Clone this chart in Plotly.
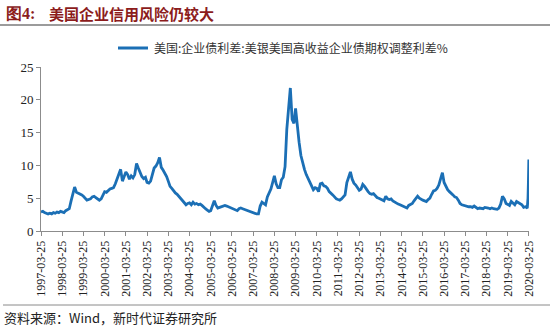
import plotly.graph_objects as go

W, H = 550, 328

# Monthly observations (25th of each month), 1997-03 .. 2020-02, then weekly in March 2020
spread = [
    # 1997 (Mar-Dec)
    2.9, 3.0, 2.8, 2.7, 2.6, 2.7, 2.6, 2.8, 2.7, 2.9,
    # 1998
    2.8, 3.0, 2.9, 2.8, 3.1, 3.2, 3.4, 4.6, 5.8, 6.7, 5.9, 5.8,
    # 1999
    5.6, 5.5, 5.3, 5.0, 4.7, 4.8, 4.9, 5.2, 5.3, 5.1, 4.9, 4.7,
    # 2000
    4.9, 5.5, 6.0, 5.9, 6.2, 6.4, 6.5, 6.6, 7.2, 8.0, 8.8, 9.4,
    # 2001
    7.6, 8.2, 9.0, 8.6, 7.9, 8.4, 8.1, 8.6, 10.3, 9.6, 8.8, 8.3,
    # 2002
    8.0, 8.2, 7.4, 7.3, 7.6, 8.7, 9.6, 9.9, 10.4, 11.2, 9.7, 9.3,
    # 2003
    8.8, 8.3, 7.6, 6.8, 6.5, 6.1, 5.8, 5.6, 5.3, 5.0, 4.6, 4.3,
    # 2004
    4.0, 4.2, 4.3, 4.0, 4.4, 4.1, 4.2, 4.0, 4.1, 3.9, 3.6, 3.4,
    # 2005
    3.2, 3.0, 3.1, 3.9, 4.6, 3.9, 3.5, 3.6, 3.7, 3.8, 3.9, 3.8,
    # 2006
    3.7, 3.6, 3.5, 3.3, 3.2, 3.1, 3.4, 3.5, 3.4, 3.3, 3.2, 3.0,
    # 2007
    2.9, 2.9, 2.8, 2.7, 2.6, 2.6, 3.8, 4.4, 4.2, 4.0, 5.2, 5.8,
    # 2008
    6.4, 7.4, 8.4, 7.2, 6.6, 6.6, 7.8, 8.2, 9.8, 15.5, 18.6, 21.8,
    # 2009
    17.0, 16.4, 18.7, 15.6, 13.5, 11.5, 10.2, 9.4, 8.6, 8.0, 7.6, 6.8,
    # 2010
    6.3, 6.6, 6.5, 6.0, 7.2, 7.3, 6.9, 6.8, 6.5, 6.0, 5.8, 5.5,
    # 2011
    5.2, 4.9, 4.8, 4.7, 4.9, 5.3, 5.5, 7.4, 8.3, 9.0, 7.9, 7.3,
    # 2012
    7.0, 6.5, 6.2, 6.4, 7.1, 6.8, 6.3, 6.0, 5.7, 5.6, 5.7, 5.4,
    # 2013
    5.1, 5.0, 4.9, 4.8, 4.6, 5.3, 4.9, 4.8, 4.9, 4.6, 4.4, 4.3,
    # 2014
    4.1, 4.0, 3.9, 3.8, 3.6, 3.5, 3.9, 4.0, 4.2, 4.6, 4.9, 5.3,
    # 2015
    5.0, 4.8, 4.7, 4.6, 4.5, 4.8, 5.0, 5.6, 6.1, 6.2, 6.5, 7.0,
    # 2016
    7.8, 8.9, 7.4, 6.8, 6.3, 6.0, 5.8, 5.5, 5.2, 5.1, 4.7, 4.2,
    # 2017
    4.0, 3.9, 3.9, 3.8, 3.7, 3.7, 3.6, 3.8, 3.6, 3.4, 3.5, 3.5,
    # 2018
    3.4, 3.6, 3.6, 3.5, 3.4, 3.5, 3.4, 3.4, 3.3, 3.5, 4.1, 5.3,
    # 2019
    4.9, 4.2, 4.1, 3.9, 4.5, 4.3, 4.0, 4.5, 4.3, 4.2, 4.0, 3.6,
    # 2020 (Jan-Feb)
    3.7, 3.5,
]
march_2020_dates = ["2020-03-09", "2020-03-16", "2020-03-23"]
march_2020_values = [5.0, 7.5, 10.9]

tick_years = list(range(1997, 2021))
tick_labels = [f"{y}-03-25" for y in tick_years]

series_name = "美国:企业债利差:美银美国高收益企业债期权调整利差%"
title_prefix = "图4:"
title_text = "美国企业信用风险仍较大"
source_text = "资料来源：Wind，新时代证券研究所"

dates = []
y, m = 1997, 3
while (y, m) <= (2020, 2):
    dates.append(f"{y}-{m:02d}-25")
    m += 1
    if m > 12:
        y, m = y + 1, 1
dates += march_2020_dates
values = spread + march_2020_values

LINE_BLUE = "#1B6FB5"
AXIS_GREY = "#8C8C8C"
TITLE_RED = "#8C1C1C"
SERIF = "Liberation Serif, Times New Roman, serif"
CJK = "Noto Sans CJK SC, sans-serif"

fig = go.Figure()
fig.add_trace(go.Scatter(
    x=dates, y=values, mode="lines", name=series_name,
    line=dict(color=LINE_BLUE, width=2.8), showlegend=False,
))

# plot area in pixels
left, right, top, bottom = 41, 529, 67, 231


def px_x(x):
    """Pixel x -> paper coordinate (relative to the plot area)."""
    return (x - left) / (right - left)


def px_y(y):
    """Pixel y -> paper coordinate (relative to the plot area)."""
    return (bottom - y) / (bottom - top)


fig.update_layout(
    width=W, height=H,
    margin=dict(l=left, r=W - right, t=top, b=H - bottom),
    paper_bgcolor="white", plot_bgcolor="white",
    xaxis=dict(
        type="date", range=["1997-03-25", "2020-03-26"],
        tickvals=tick_labels, ticktext=tick_labels, tickangle=-90,
        showline=True, linecolor=AXIS_GREY, linewidth=1,
        ticks="outside", ticklen=4, tickcolor=AXIS_GREY,
        showgrid=False, zeroline=False,
        tickfont=dict(family=SERIF, size=12, color="#222"),
    ),
    yaxis=dict(
        range=[0, 25], tickvals=[0, 5, 10, 15, 20, 25],
        showline=True, linecolor=AXIS_GREY, linewidth=1,
        ticks="outside", ticklen=4, tickcolor=AXIS_GREY,
        showgrid=False, zeroline=False,
        tickfont=dict(family=SERIF, size=13, color="#222"),
    ),
    shapes=[
        # rule under the heading
        dict(type="line", xref="paper", yref="paper",
             x0=px_x(0), x1=px_x(W), y0=px_y(25), y1=px_y(25),
             line=dict(color="#7A7A7A", width=1.5)),
        # legend swatch
        dict(type="line", xref="paper", yref="paper",
             x0=px_x(118), x1=px_x(148), y0=px_y(48), y1=px_y(48),
             line=dict(color=LINE_BLUE, width=3)),
        # rule above the source note
        dict(type="line", xref="paper", yref="paper",
             x0=px_x(3), x1=px_x(W), y0=px_y(305), y1=px_y(305),
             line=dict(color="#8A8A8A", width=1)),
    ],
    annotations=[
        dict(text=f"<b>{title_prefix}</b>", xref="paper", yref="paper",
             x=px_x(4), y=px_y(14), xanchor="left", yanchor="middle",
             showarrow=False, font=dict(family=SERIF, size=16, color=TITLE_RED)),
        dict(text=f"<b>{title_text}</b>", xref="paper", yref="paper",
             x=px_x(47), y=px_y(14), xanchor="left", yanchor="middle",
             showarrow=False, font=dict(family=CJK, size=15, color=TITLE_RED)),
        dict(text=series_name, xref="paper", yref="paper",
             x=px_x(152), y=px_y(48), xanchor="left", yanchor="middle",
             showarrow=False, font=dict(family=CJK, size=12, color="#333")),
        dict(text=source_text, xref="paper", yref="paper",
             x=px_x(2), y=px_y(317), xanchor="left", yanchor="middle",
             showarrow=False, font=dict(family=CJK, size=13, color="#222")),
    ],
)

fig.write_html("out.html")
